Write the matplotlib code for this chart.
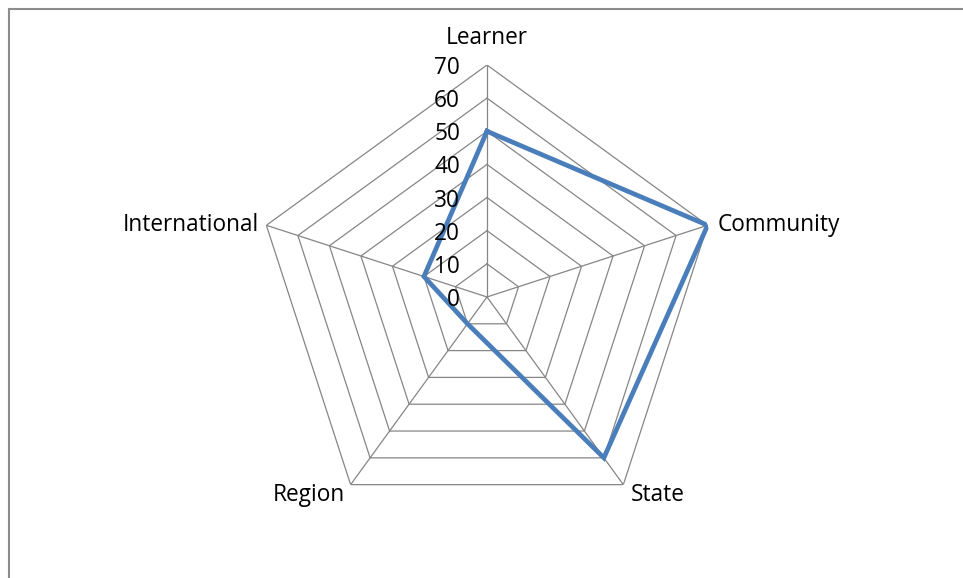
import numpy as np
import matplotlib.pyplot as plt
from matplotlib.lines import Line2D

# categories and values
categories = ['Learner', 'Community', 'State', 'Region', 'International']
values = [50, 70, 60, 10, 20]
levels = [0, 10, 20, 30, 40, 50, 60, 70]

plt.rcParams['font.family'] = ['Open Sans', 'DejaVu Sans']

fig = plt.figure(figsize=(9.63, 5.78), dpi=100)
ax = fig.add_axes([0.2648, 0.0848, 0.4818, 0.8028], projection='polar')
ax.set_theta_offset(np.pi / 2)
ax.set_theta_direction(-1)
ax.set_ylim(0, 70)
ax.grid(False)
ax.spines['polar'].set_visible(False)
ax.set_xticks([])
ax.set_yticks([])
ax.patch.set_alpha(0)

n = len(categories)
angles = np.linspace(0, 2 * np.pi, n, endpoint=False)
closed = np.append(angles, angles[0])

grid_col = '#868686'
# pentagon rings
for lv in levels[1:]:
    ax.plot(closed, [lv] * (n + 1), color=grid_col, lw=0.9, zorder=1)
# spokes
for a in angles:
    ax.plot([a, a], [0, levels[-1]], color=grid_col, lw=0.9, zorder=1)

# data series
ax.plot(closed, values + values[:1], color='#4A7EBB', lw=3.4, zorder=3,
        solid_joinstyle='miter')

fs = 16.3
# radial tick labels
for lv in levels:
    ax.annotate(str(lv), xy=(0, lv), xytext=(-27, -3), textcoords='offset pixels',
                ha='right', va='center', fontsize=fs, color='black',
                annotation_clip=False, zorder=4)

# category labels
offsets = [(0, 27, 'center'), (10, 0, 'left'), (7, -10, 'left'),
           (-6, -10, 'right'), (-7, 0, 'right')]
for a, name, (dx, dy, ha) in zip(angles, categories, offsets):
    ax.annotate(name, xy=(a, levels[-1]), xytext=(dx, dy), textcoords='offset pixels',
                ha=ha, va='center', fontsize=fs, color='black',
                annotation_clip=False)

# chart area border (top and left visible)
x0, y0 = 8.5 / 963, 1 - 8.5 / 578
fig.add_artist(Line2D([x0, 1.0], [y0, y0], color='#8c8c8c', lw=1.5,
                      transform=fig.transFigure))
fig.add_artist(Line2D([x0, x0], [0.0, y0], color='#8c8c8c', lw=1.5,
                      transform=fig.transFigure))

fig.savefig('out.png', dpi=100, facecolor='white')
